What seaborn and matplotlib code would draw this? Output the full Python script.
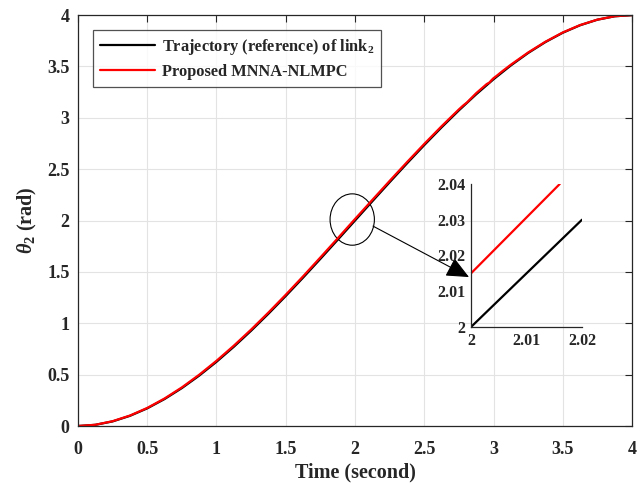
import matplotlib
matplotlib.use("Agg")
from matplotlib import pyplot as plt
from matplotlib.patches import Ellipse
import seaborn as sns
import numpy as np

# values
time_ref = [0, 0.125, 0.25, 0.375, 0.5, 0.625, 0.75, 0.875, 1, 1.125, 1.25, 1.375,
            1.5, 1.625, 1.75, 1.875, 2, 2.125, 2.25, 2.375, 2.5, 2.625, 2.75, 2.875,
            3, 3.125, 3.25, 3.375, 3.5, 3.625, 3.75, 3.875, 4]
theta_ref = [0, 0.0115, 0.0449, 0.0989, 0.1719, 0.2625, 0.3691, 0.4905, 0.625,
             0.7712, 0.9277, 1.093, 1.2656, 1.4441, 1.627, 1.8127, 2.0, 2.1873,
             2.373, 2.5559, 2.7344, 2.907, 3.0723, 3.2288, 3.375, 3.5095, 3.6309,
             3.7375, 3.8281, 3.9011, 3.9551, 3.9885, 4.0]

time_mnna = [0, 0.125, 0.25, 0.375, 0.5, 0.625, 0.75, 0.875, 1, 1.125, 1.25, 1.375,
             1.5, 1.625, 1.75, 1.875, 2, 2.125, 2.25, 2.375, 2.5, 2.625, 2.75, 2.78,
             2.81, 2.825, 2.875, 2.95, 2.97, 2.985, 3.0, 3.02, 3.06, 3.125, 3.25,
             3.375, 3.5, 3.625, 3.75, 3.875, 4]
theta_mnna = [0, 0.012, 0.047, 0.102, 0.176, 0.268, 0.376, 0.499, 0.635, 0.782,
              0.939, 1.105, 1.278, 1.457, 1.641, 1.827, 2.015, 2.201, 2.386, 2.568,
              2.746, 2.918, 3.082, 3.119, 3.151, 3.172, 3.24, 3.328, 3.343, 3.366,
              3.386, 3.406, 3.45, 3.517, 3.636, 3.741, 3.831, 3.903, 3.956, 3.989, 4.0]

zoom_t_ref = [2.0, 2.02]
zoom_th_ref = [2.0, 2.03]
zoom_t_mnna = [2.0, 2.016]
zoom_th_mnna = [2.015, 2.04]

sns.set_style("white")
plt.rcParams['font.family'] = ['Liberation Serif', 'DejaVu Serif']
plt.rcParams['font.weight'] = 'bold'
plt.rcParams['mathtext.fontset'] = 'custom'
plt.rcParams['mathtext.rm'] = 'Liberation Serif:bold'
plt.rcParams['mathtext.bf'] = 'Liberation Serif:bold'
plt.rcParams['mathtext.it'] = 'Liberation Serif:italic:bold'

fig = plt.figure(figsize=(6.43, 4.84), dpi=100)
ax = fig.add_axes([0.1213, 0.1198, 0.8616, 0.849])

sns.lineplot(x=time_ref, y=theta_ref, ax=ax, color='black', lw=1.6,
             label=r'Trajectory (reference) of link$_{\mathbf{2}}$')
sns.lineplot(x=time_mnna, y=theta_mnna, ax=ax, color='#ff0000', lw=1.6,
             label='Proposed MNNA-NLMPC')

ax.set_xlim(0, 4)
ax.set_ylim(0, 4)
ax.set_xticks(np.arange(0, 4.01, 0.5))
ax.set_yticks(np.arange(0, 4.01, 0.5))
ax.set_xticklabels(['0', '0.5', '1', '1.5', '2', '2.5', '3', '3.5', '4'])
ax.set_yticklabels(['0', '0.5', '1', '1.5', '2', '2.5', '3', '3.5', '4'])
ax.grid(True, color='#e3e3e3', lw=0.8)
ax.tick_params(direction='in', length=5, width=0.8, top=True, right=True,
               labelsize=13)
ax.tick_params(axis='x', pad=11)
ax.tick_params(axis='y', pad=6)
for sp in ax.spines.values():
    sp.set_color('#262626')
    sp.set_linewidth(0.9)
ax.set_xlabel('Time (second)', fontsize=14.5, fontweight='bold', labelpad=3)
ax.set_ylabel(r'$\theta_{\mathbf{2}}$ (rad)', fontsize=14.5, fontweight='bold', labelpad=6)

leg = ax.legend(loc='upper left', bbox_to_anchor=(0.027, 0.963), fontsize=11.8,
                frameon=True, fancybox=False, edgecolor='#262626',
                handlelength=3.4, borderpad=0.4, labelspacing=0.45,
                handletextpad=0.4, borderaxespad=0)
leg.get_frame().set_linewidth(0.9)
for t in leg.get_texts():
    t.set_fontweight('bold')

ax.add_patch(Ellipse((1.98, 2.01), 0.32, 0.5, fill=False, color='black', lw=0.8))
ax.annotate('', xy=(2.823, 1.45), xytext=(2.13, 1.946),
            arrowprops=dict(arrowstyle='-|>,head_length=1.0,head_width=0.45',
                            color='black', lw=0.8, shrinkA=0, shrinkB=0,
                            mutation_scale=14))

ins = fig.add_axes([0.7325, 0.3244, 0.1726, 0.2955])
ins.patch.set_alpha(0)
sns.lineplot(x=zoom_t_ref, y=zoom_th_ref, ax=ins, color='black', lw=1.6)
sns.lineplot(x=zoom_t_mnna, y=zoom_th_mnna, ax=ins, color='#ff0000', lw=1.6)
ins.set_xlim(2.0, 2.02)
ins.set_ylim(2.0, 2.04)
ins.set_xticks([2.0, 2.01, 2.02])
ins.set_xticklabels(['2', '2.01', '2.02'])
ins.set_yticks([2.0, 2.01, 2.02, 2.03, 2.04])
ins.set_yticklabels(['2', '2.01', '2.02', '2.03', '2.04'])
ins.tick_params(direction='in', length=3, width=0.8, labelsize=11.5, pad=4)
ins.spines['top'].set_visible(False)
ins.spines['right'].set_visible(False)
for s in ('left', 'bottom'):
    ins.spines[s].set_color('#262626')
    ins.spines[s].set_linewidth(0.9)

fig.savefig('out.png', dpi=100)
